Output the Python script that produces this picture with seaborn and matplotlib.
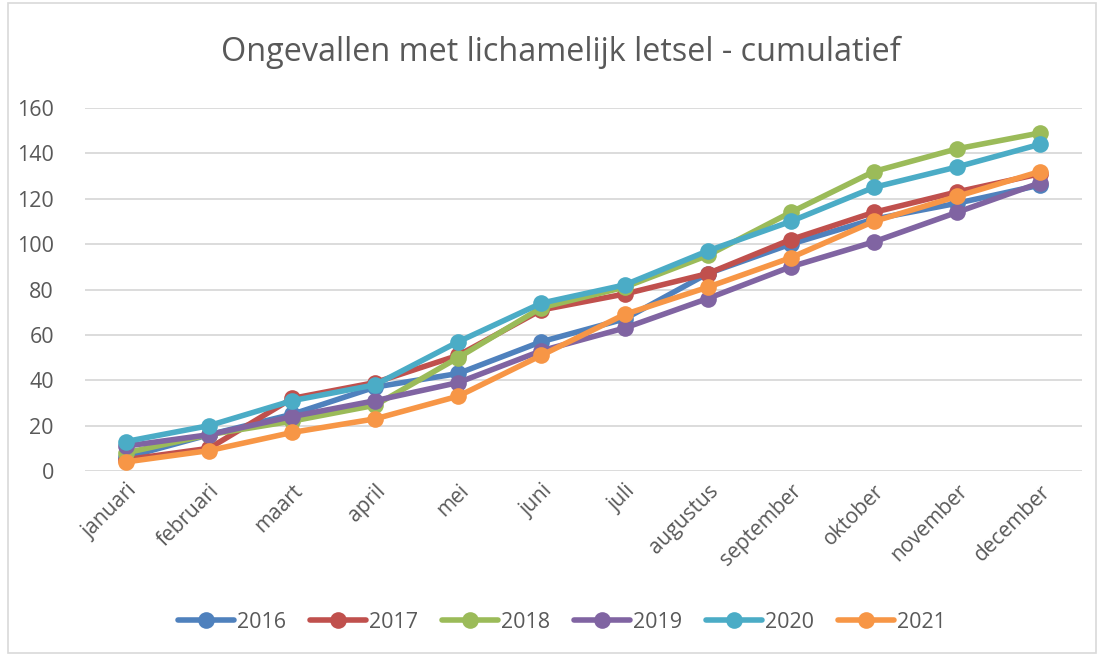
import numpy as np
import pandas as pd
import seaborn as sns
import matplotlib.pyplot as plt
from matplotlib.patches import Rectangle

months = ["januari", "februari", "maart", "april", "mei", "juni", "juli",
          "augustus", "september", "oktober", "november", "december"]

y2016 = [6, 16, 25, 37, 43, 57, 67, 87, 100, 111, 118, 126]
y2017 = [5, 10, 32, 39, 51, 71, 78, 87, 102, 114, 123, 131]
y2018 = [8, 16, 22, 29, 50, 72, 81, 95, 114, 132, 142, 149]
y2019 = [11, 16, 24, 31, 39, 53, 63, 76, 90, 101, 114, 127]
y2020 = [13, 20, 31, 38, 57, 74, 82, 97, 110, 125, 134, 144]
y2021 = [4, 9, 17, 23, 33, 51, 69, 81, 94, 110, 121, 132]

years = ["2016", "2017", "2018", "2019", "2020", "2021"]
colors = ["#4F81BD", "#C0504D", "#9BBB59", "#8064A2", "#4BACC6", "#F79646"]

series = [y2016, y2017, y2018, y2019, y2020, y2021]
rows = []
for yr, vals in zip(years, series):
    for m, v in zip(months, vals):
        rows.append({"maand": m, "aantal": v, "jaar": yr})
df = pd.DataFrame(rows)

sns.set_style("white")
plt.rcParams["font.family"] = ["Open Sans", "DejaVu Sans"]
grey = "#595959"

fig = plt.figure(figsize=(10.99, 6.55), dpi=100)
ax = fig.add_axes([84.5 / 1099, 1 - 471 / 655, 997 / 1099, 363 / 655])

sns.lineplot(data=df, x="maand", y="aantal", hue="jaar", palette=colors,
             marker="o", markersize=12, markeredgewidth=0, linewidth=4,
             sort=False, ax=ax)

ax.set_xlim(-0.5, 11.5)
ax.set_ylim(0, 160)
ax.set_yticks(range(0, 161, 20))
ax.yaxis.grid(True, color="#D9D9D9", linewidth=1.3)
ax.set_axisbelow(True)
for s in ax.spines.values():
    s.set_visible(False)
ax.set_xlabel("")
ax.set_ylabel("")
ax.tick_params(axis="y", colors=grey, labelsize=15.5, length=0, pad=22)
ax.tick_params(axis="x", colors=grey, labelsize=15, length=0, pad=7)
plt.setp(ax.get_xticklabels(), rotation=45, ha="right", rotation_mode="anchor")

fig.suptitle("Ongevallen met lichamelijk letsel - cumulatief",
             x=561 / 1099, y=0.945, fontsize=23.3, color=grey)

leg = ax.legend(loc="center", bbox_to_anchor=(562 / 1099, 1 - 622 / 655),
                bbox_transform=fig.transFigure,
                ncol=6, frameon=False, fontsize=15.5, handlelength=2.6,
                columnspacing=1.1, handletextpad=0.15, labelcolor=grey)

fig.patches.append(Rectangle((8 / 1099, 2 / 655), 1088 / 1099, 650 / 655,
                             transform=fig.transFigure, fill=False,
                             edgecolor="#D9D9D9", linewidth=1.2))

fig.savefig("out.png", dpi=100)
